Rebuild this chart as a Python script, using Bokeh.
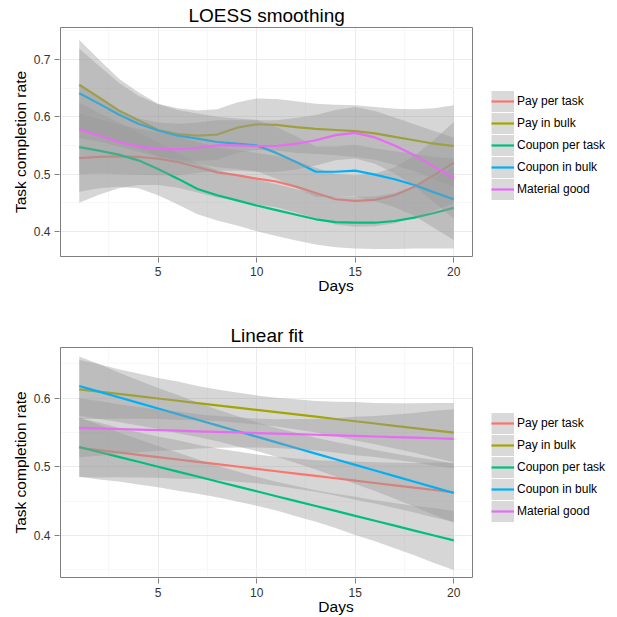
import numpy as np
from bokeh.plotting import figure
from bokeh.models import Range1d, FixedTicker, Legend, LegendItem
from bokeh.layouts import column
from bokeh.embed import file_html
from bokeh.resources import INLINE

# ---------------- data ----------------
days = list(range(1, 21))
groups = ["Pay per task", "Pay in bulk", "Coupon per task", "Coupon in bulk", "Material good"]
colors = ["#F8766D", "#A3A500", "#00BF7D", "#00B0F6", "#E76BF3"]

# LOESS smoothing fitted values (day 1..20)
loess_pay_per_task = [0.528, 0.530, 0.531, 0.530, 0.527, 0.521, 0.512, 0.503, 0.498, 0.492,
                      0.487, 0.478, 0.467, 0.456, 0.453, 0.455, 0.463, 0.478, 0.498, 0.520]
loess_pay_in_bulk = [0.656, 0.634, 0.611, 0.594, 0.577, 0.570, 0.567, 0.569, 0.581, 0.587,
                     0.586, 0.582, 0.579, 0.577, 0.575, 0.571, 0.565, 0.559, 0.553, 0.549]
loess_coupon_per_task = [0.547, 0.541, 0.534, 0.524, 0.509, 0.492, 0.474, 0.463, 0.454, 0.445,
                         0.437, 0.429, 0.421, 0.416, 0.415, 0.415, 0.418, 0.424, 0.432, 0.441]
loess_coupon_in_bulk = [0.641, 0.623, 0.604, 0.588, 0.576, 0.567, 0.562, 0.556, 0.553, 0.550,
                        0.537, 0.521, 0.504, 0.504, 0.506, 0.499, 0.491, 0.481, 0.468, 0.456]
loess_material_good = [0.578, 0.567, 0.556, 0.548, 0.544, 0.543, 0.546, 0.550, 0.550, 0.549,
                       0.549, 0.553, 0.559, 0.568, 0.572, 0.564, 0.550, 0.533, 0.513, 0.493]
# half-width of the LOESS confidence band (day 1..20)
loess_halfwidth = [0.078, 0.066, 0.056, 0.049, 0.046, 0.045, 0.044, 0.044, 0.044, 0.045,
                   0.045, 0.045, 0.044, 0.044, 0.045, 0.046, 0.049, 0.054, 0.062, 0.071]

# Linear fit: fitted values at day 1 and day 20
linear_day1 = [0.528, 0.613, 0.529, 0.618, 0.557]
linear_day20 = [0.463, 0.550, 0.393, 0.462, 0.541]
# half-width of the linear-fit confidence band (day 1..20)
linear_halfwidth = [0.043, 0.040, 0.036, 0.033, 0.030, 0.028, 0.025, 0.023, 0.022, 0.021,
                    0.021, 0.022, 0.023, 0.025, 0.028, 0.030, 0.033, 0.036, 0.040, 0.043]

x_limits = (0.05, 20.95)
x_ticks = [5, 10, 15, 20]
x_minor = [2.5, 7.5, 12.5, 17.5]
loess_limits = (0.356, 0.756)
loess_y_ticks = [0.4, 0.5, 0.6, 0.7]
loess_y_minor = [0.35, 0.45, 0.55, 0.65, 0.75]
linear_limits = (0.339, 0.674)
linear_y_ticks = [0.4, 0.5, 0.6]
linear_y_minor = [0.35, 0.45, 0.55, 0.65]

FONT = "Liberation Sans"

# layout (pixels): panel box spans x 60..472; frame is 1px larger and extends
# to the right to hold the legend
PANEL_L, PANEL_R = 60, 472
FRAME_L, FRAME_R = 59, 612
WIDTH = 617


def make_panel(title, title_left, series, halfwidth, y_limits, y_ticks, y_minor,
               height, panel_top, panel_bottom, legend_bottom):
    upx = (x_limits[1] - x_limits[0]) / (PANEL_R - PANEL_L)
    x0 = x_limits[0] - upx * (PANEL_L - FRAME_L)
    x1 = x_limits[1] + upx * (FRAME_R - PANEL_R)
    upy = (y_limits[1] - y_limits[0]) / (panel_bottom - panel_top)
    y0 = y_limits[0] - upy
    y1 = y_limits[1] + upy
    frame_top = panel_top - 1
    frame_bottom = panel_bottom + 1

    p = figure(width=WIDTH, height=height,
               x_range=Range1d(x0, x1), y_range=Range1d(y0, y1),
               output_backend="svg", toolbar_location=None,
               min_border_left=FRAME_L, min_border_right=WIDTH - FRAME_R,
               min_border_top=frame_top, min_border_bottom=height - frame_bottom)
    p.title.text = title
    p.title.align = "left"
    p.title.offset = title_left - FRAME_L
    p.title.text_font = FONT
    p.title.text_font_size = "19px"
    p.title.text_font_style = "normal"
    p.title.text_color = "black"
    p.title.standoff = 2

    p.background_fill_color = "white"
    p.border_fill_color = "white"
    p.outline_line_color = None

    p.xaxis.ticker = FixedTicker(ticks=x_ticks, minor_ticks=x_minor)
    p.yaxis.ticker = FixedTicker(ticks=y_ticks, minor_ticks=y_minor)
    p.xaxis.bounds = x_limits
    p.yaxis.bounds = y_limits
    for g in (p.xgrid, p.ygrid):
        g.grid_line_color = "#EBEBEB"
        g.grid_line_width = 1
        g.minor_grid_line_color = "#F7F7F7"
        g.minor_grid_line_width = 1
    for ax in (p.xaxis, p.yaxis):
        ax.axis_line_color = None
        ax.major_tick_line_color = "#7F7F7F"
        ax.major_tick_out = 5
        ax.major_tick_in = 0
        ax.minor_tick_line_color = None
        ax.major_label_text_font = FONT
        ax.major_label_text_font_size = "12px"
        ax.major_label_text_color = "#333333"
        ax.major_label_standoff = 4
        ax.axis_label_text_font = FONT
        ax.axis_label_text_font_size = "15.5px"
        ax.axis_label_text_font_style = "normal"
        ax.axis_label_text_color = "black"
    p.xaxis.axis_label_standoff = -2
    p.yaxis.axis_label_standoff = 2
    p.xaxis.axis_label = "Days"
    p.yaxis.axis_label = "Task completion rate"

    # legend-key background: a renderer whose points lie outside the visible range
    off_x = [x0 - 10, x0 - 9]
    off_y = [y_limits[0], y_limits[0]]

    items = []
    for name, color, vals in zip(groups, colors, series):
        lo = [v - h for v, h in zip(vals, halfwidth)]
        hi = [v + h for v, h in zip(vals, halfwidth)]
        p.varea(x=days, y1=lo, y2=hi, fill_color="#999999", fill_alpha=0.4)
        r = p.line(days, vals, line_color=color, line_width=2.2)
        bg = p.line(x=off_x, y=off_y, line_color="#D9D9D9", line_width=21,
                    line_cap="butt")
        items.append(LegendItem(label=name, renderers=[bg, r]))

    # blank the area right of the panel (legend area) and draw the panel border
    p.quad(left=x_limits[1] + upx * 0.5, right=x1 + 1, bottom=y0 - 1, top=y1 + 1,
           fill_color="white", line_color=None)
    p.quad(left=x_limits[0], right=x_limits[1], bottom=y_limits[0], top=y_limits[1],
           fill_color=None, line_color="#7F7F7F", line_width=1)

    legend = Legend(items=items, location=(491 - FRAME_L, frame_bottom - legend_bottom))
    legend.margin = 0
    legend.padding = 0
    legend.spacing = 0
    legend.glyph_width = 23
    legend.glyph_height = 22
    legend.label_height = 22
    legend.label_standoff = 3
    legend.label_text_font = FONT
    legend.label_text_font_size = "12px"
    legend.label_text_color = "black"
    legend.border_line_color = None
    legend.background_fill_alpha = 0
    p.add_layout(legend)
    return p


loess_series = [loess_pay_per_task, loess_pay_in_bulk, loess_coupon_per_task,
                loess_coupon_in_bulk, loess_material_good]
linear_series = [list(np.interp(days, [days[0], days[-1]], [a, b]))
                 for a, b in zip(linear_day1, linear_day20)]

p1 = make_panel("LOESS smoothing", 188, loess_series, loess_halfwidth, loess_limits,
                loess_y_ticks, loess_y_minor, height=300, panel_top=27,
                panel_bottom=256, legend_bottom=200)
p2 = make_panel("Linear fit", 230, linear_series, linear_halfwidth, linear_limits,
                linear_y_ticks, linear_y_minor, height=317, panel_top=47,
                panel_bottom=277, legend_bottom=222)

layout = column(p1, p2, spacing=0)
open("out.html", "w").write(file_html(layout, INLINE))
